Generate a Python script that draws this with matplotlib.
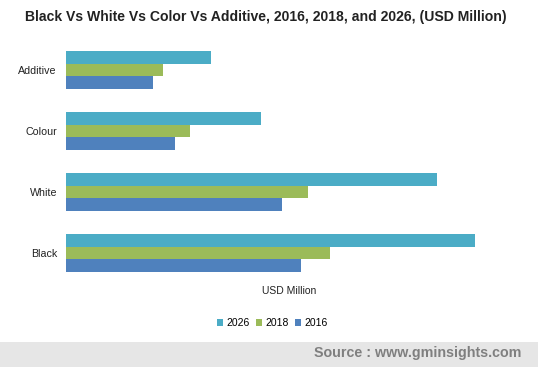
import matplotlib
matplotlib.use("Agg")
import matplotlib.pyplot as plt
import numpy as np
from matplotlib.patches import Rectangle

plt.rcParams['font.family'] = ['Liberation Sans', 'DejaVu Sans']

categories = ["Black", "White", "Colour", "Additive"]
years = ["2016", "2018", "2026"]
values_2016 = [235, 216, 109, 87]
values_2018 = [264, 242, 124, 97]
values_2026 = [409, 371, 195, 145]
colors = {"2016": "#4F81BD", "2018": "#9BBB59", "2026": "#4BACC6"}

W, H = 538, 367
fig = plt.figure(figsize=(W/100, H/100), dpi=100)

ax_l, ax_r = 66, 520
ax_t, ax_b = 39.5, 283.5
ax = fig.add_axes([ax_l/W, 1-ax_b/H, (ax_r-ax_l)/W, (ax_b-ax_t)/H])

y = np.arange(len(categories))
bh = 0.207
series = [("2016", values_2016, -bh), ("2018", values_2018, 0), ("2026", values_2026, bh)]
handles = {}
for name, vals, off in series:
    handles[name] = ax.barh(y + off, vals, height=bh, color=colors[name], label=name)

ax.set_xlim(0, ax_r - ax_l)
ax.set_ylim(-0.5, len(categories) - 0.5)
ax.set_yticks(y)
ax.set_yticklabels(categories, fontsize=7.7, color="#222222")
ax.tick_params(axis='y', length=0, pad=6.5)
ax.set_xticks([])
for s in ax.spines.values():
    s.set_visible(False)

fig.text(289/W, 1-291/H, "USD Million", ha="center", va="center", fontsize=7.5, color="#222222")

leg = fig.legend([handles["2026"], handles["2018"], handles["2016"]], ["2026", "2018", "2016"],
                 loc="center", bbox_to_anchor=(272/W, 1-323/H), ncol=3, frameon=False,
                 fontsize=7.5, handlelength=0.6, handleheight=0.6, handletextpad=0.3,
                 columnspacing=0.6)

fig.text(266/W, 1-17/H, "Black Vs White Vs Color Vs Additive, 2016, 2018, and 2026, (USD Million)",
         ha="center", va="center", fontsize=10.1, fontweight="bold", color="#222222")

fig.patches.append(Rectangle((0, 0), 1, (H-342)/H, transform=fig.transFigure,
                             facecolor="#E6E6E6", edgecolor="none", zorder=0))
fig.text(521/W, 1-353/H, "Source : www.gminsights.com", ha="right", va="center",
         fontsize=10.3, fontweight="bold", color="#7F7F7F")

fig.savefig("out.png", dpi=100)
